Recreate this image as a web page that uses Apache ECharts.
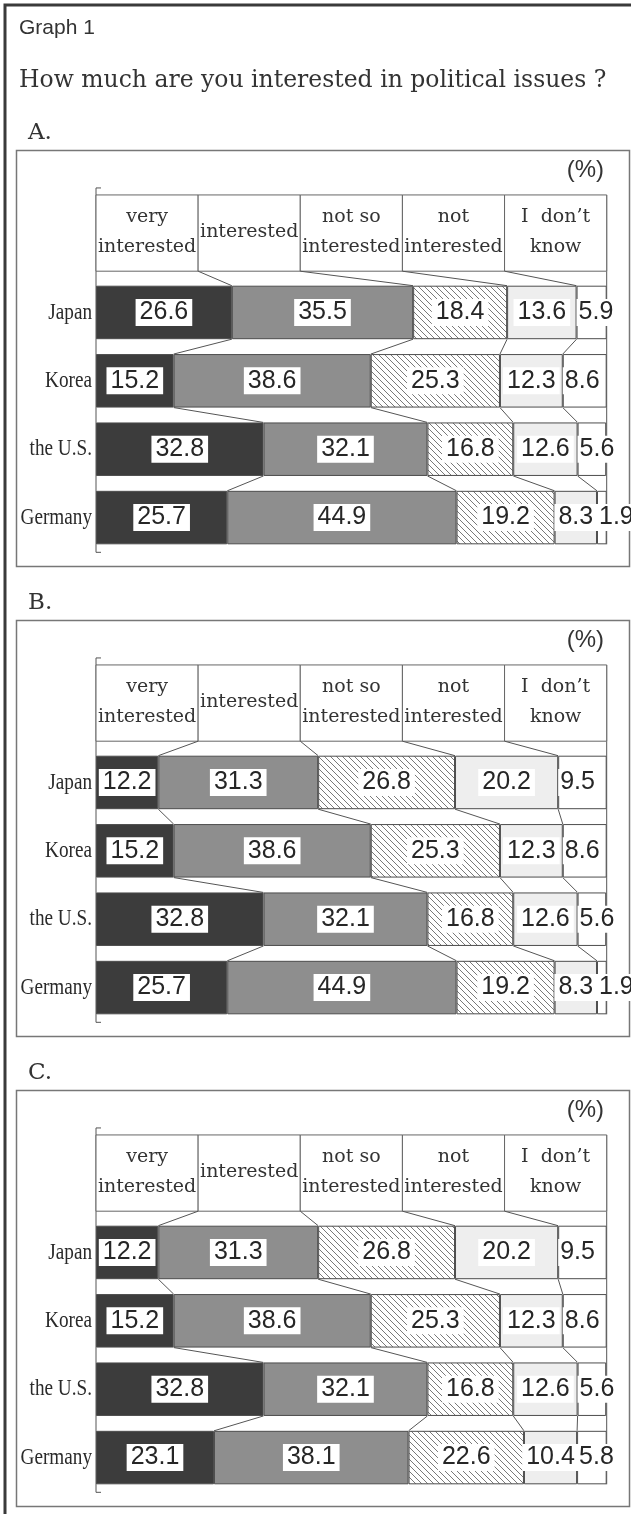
<!DOCTYPE html>
<html><head><meta charset="utf-8">
<script src="https://cdn.jsdelivr.net/npm/echarts@6/dist/echarts.min.js"></script>
<style>html,body{margin:0;padding:0;background:#fff}#c{width:631px;height:1514px}</style>
</head><body><div id="c"></div>
<script>
// ---------- data ----------
const countries = ['Japan', 'Korea', 'the U.S.', 'Germany'];
const responses = ['very\ninterested', 'interested', 'not so\ninterested', 'not\ninterested', 'I  don\u2019t\nknow'];
const headerBounds = [0, 20, 40, 60, 80, 100];
const panelLetters = ['A.', 'B.', 'C.'];

// Panel A
const aVeryInterested = [26.6, 15.2, 32.8, 25.7];
const aInterested     = [35.5, 38.6, 32.1, 44.9];
const aNotSo          = [18.4, 25.3, 16.8, 19.2];
const aNot            = [13.6, 12.3, 12.6, 8.3];
const aDontKnow       = [5.9, 8.6, 5.6, 1.9];
// Panel B
const bVeryInterested = [12.2, 15.2, 32.8, 25.7];
const bInterested     = [31.3, 38.6, 32.1, 44.9];
const bNotSo          = [26.8, 25.3, 16.8, 19.2];
const bNot            = [20.2, 12.3, 12.6, 8.3];
const bDontKnow       = [9.5, 8.6, 5.6, 1.9];
// Panel C
const cVeryInterested = [12.2, 15.2, 32.8, 23.1];
const cInterested     = [31.3, 38.6, 32.1, 38.1];
const cNotSo          = [26.8, 25.3, 16.8, 22.6];
const cNot            = [20.2, 12.3, 12.6, 10.4];
const cDontKnow       = [9.5, 8.6, 5.6, 5.8];

const panels = [
  [aVeryInterested, aInterested, aNotSo, aNot, aDontKnow],
  [bVeryInterested, bInterested, bNotSo, bNot, bDontKnow],
  [cVeryInterested, cInterested, cNotSo, cNot, cDontKnow]
];

// ---------- layout / style ----------
const PANEL_DY = 470;
const GRID_TOP = 278.25, GRID_H = 273.5, GRID_LEFT = 96, GRID_RIGHT = 24.3;
const BAR_W = 53.5;
const LINE = '#555';

function hatchCanvas() {
  const s = 6, c = document.createElement('canvas');
  c.width = s; c.height = s;
  const g = c.getContext('2d');
  g.fillStyle = '#fff'; g.fillRect(0, 0, s, s);
  g.strokeStyle = '#6a6a6a'; g.lineWidth = 0.9;
  g.beginPath();
  for (const k of [-s, 0, s]) { g.moveTo(k, 0); g.lineTo(k + s, s); }
  g.stroke();
  return c;
}
const fills = ['#3c3c3c', '#8e8e8e', { image: hatchCanvas(), repeat: 'repeat' }, '#eeeeee', '#ffffff'];

function makeRender(rows) {
  return function (params, api) {
    const X = v => api.coord([v, 0])[0];
    const Yc = i => api.coord([0, i])[1];
    const n = countries.length;
    const top = i => Yc(i) - BAR_W / 2, bot = i => Yc(i) + BAR_W / 2;
    const hb = top(0) - 14.5, ht = hb - 76.25;
    const cum = countries.map((c, i) => { let s = 0; return rows.map(r => (s += r[i])); });
    const ch = [];
    const ln = (x1, y1, x2, y2, w) => ch.push({ type: 'line', shape: { x1, y1, x2, y2 }, style: { stroke: LINE, lineWidth: w || 1 } });
    // axis line with end ticks
    const x0 = X(0), yA = ht - 7, yB = bot(n - 1) + 8;
    ln(x0, yA, x0, yB); ln(x0, yA, x0 + 5, yA); ln(x0, yB, x0 + 5, yB);
    // right border
    ln(X(100), ht, X(100), bot(n - 1));
    // header boxes
    for (let k = 0; k < responses.length; k++) {
      const xa = X(headerBounds[k]), xb = X(headerBounds[k + 1]);
      ch.push({ type: 'rect', shape: { x: xa, y: ht, width: xb - xa, height: hb - ht },
        style: { fill: '#fff', stroke: '#666', lineWidth: 1 } });
      ch.push({ type: 'text', x: (xa + xb) / 2, y: (ht + hb) / 2 - 1,
        style: { text: responses[k], font: '19px "DejaVu Serif"', fill: '#333', align: 'center', verticalAlign: 'middle', lineHeight: 30 } });
    }
    // connectors header -> first row
    for (let k = 1; k < responses.length; k++) ln(X(headerBounds[k]), hb, X(cum[0][k - 1]), top(0));
    // connectors between rows
    for (let i = 0; i < n - 1; i++)
      for (let k = 0; k < rows.length - 1; k++) ln(X(cum[i][k]), bot(i), X(cum[i + 1][k]), top(i + 1));
    // country labels (condensed serif)
    for (let i = 0; i < n; i++) {
      ch.push({ type: 'text', x: x0 - 4, y: Yc(i), scaleX: 0.8, originX: 0, originY: 0,
        style: { text: countries[i], font: '24px "Liberation Serif"', fill: '#2a2a2a', align: 'right', verticalAlign: 'middle' } });
    }
    return { type: 'group', children: ch };
  };
}

const grids = [], xAxes = [], yAxes = [], series = [], graphics = [];
graphics.push({ type: 'rect', shape: { x: 5, y: 5, width: 700, height: 1600 }, style: { fill: 'none', stroke: '#3a3a3a', lineWidth: 3 } });
graphics.push({ type: 'text', x: 19, y: 28, style: { text: 'Graph 1', font: '21px "Liberation Sans"', fill: '#333', verticalAlign: 'middle' } });
graphics.push({ type: 'text', x: 19, y: 81, style: { text: 'How much are you interested in political issues ?', font: '23.5px "DejaVu Serif"', fill: '#333', verticalAlign: 'middle' } });

panels.forEach((rows, p) => {
  const dy = p * PANEL_DY;
  grids.push({ left: GRID_LEFT, right: GRID_RIGHT, top: GRID_TOP + dy, height: GRID_H, containLabel: false });
  xAxes.push({ gridIndex: p, type: 'value', min: 0, max: 100, show: false });
  yAxes.push({ gridIndex: p, type: 'category', data: countries, inverse: true, show: false });
  graphics.push({ type: 'rect', shape: { x: 16.5, y: 150.5 + dy, width: 613, height: 416 }, style: { fill: 'none', stroke: '#777', lineWidth: 1.5 } });
  graphics.push({ type: 'text', x: 28, y: 133.5 + dy, style: { text: panelLetters[p], font: '23px "DejaVu Serif"', fill: '#333', verticalAlign: 'middle' } });
  graphics.push({ type: 'text', x: 604, y: 170.5 + dy, style: { text: '(%)', font: '24px "Liberation Sans"', fill: '#333', align: 'right', verticalAlign: 'middle' } });
  series.push({ type: 'custom', xAxisIndex: p, yAxisIndex: p, z: 1, silent: true, clip: false,
    data: [[0, 0]], renderItem: makeRender(rows) });
  rows.forEach((arr, k) => {
    const last = k === rows.length - 1;
    series.push({
      type: 'bar', xAxisIndex: p, yAxisIndex: p, stack: 'panel' + p, data: arr, barWidth: BAR_W, z: 3,
      itemStyle: { color: fills[k], borderColor: '#4d4d4d', borderWidth: 1 },
      label: { show: true, position: last ? 'insideLeft' : 'inside', distance: last ? 0 : 5,
        formatter: q => q.value.toFixed(1), fontFamily: '"Liberation Sans", Arial', fontSize: 25, lineHeight: 25,
        color: '#262626', backgroundColor: '#fff', padding: last ? [1, 2] : [1, 4] },
      emphasis: { disabled: true }, silent: true
    });
  });
});

const chart = echarts.init(document.getElementById('c'), null, { renderer: 'canvas' });
chart.setOption({ animation: false, grid: grids, xAxis: xAxes, yAxis: yAxes, series: series, graphic: graphics });
</script>
</body></html>
